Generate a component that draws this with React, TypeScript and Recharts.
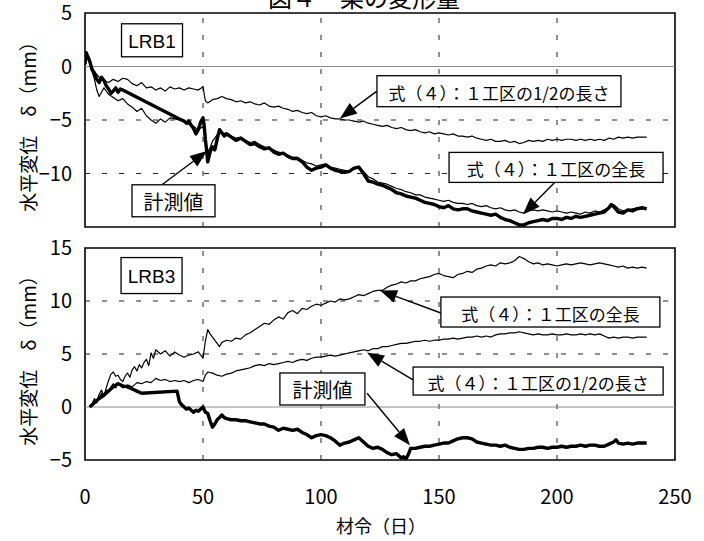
import React from 'react';
import { LineChart, Line, XAxis, YAxis, ReferenceLine, ReferenceArea, ReferenceDot } from 'recharts';

const FONT = '"Noto Sans CJK JP", "Noto Sans", sans-serif';

const xTicks = [0, 50, 100, 150, 200, 250];
const xGridValues = [50, 100, 150, 200];
const lrb1YTicks = [-15, -10, -5, 0, 5];
const lrb1Dashed = [-5, -10];
const lrb3YTicks = [-5, 0, 5, 10, 15];
const lrb3Dashed = [5, 10];

const titleText = '図４　梁の変形量';
const yLabelText = '水平変位　δ（mm）';
const xLabelText = '材令（日）';
const labelHalf = '式（４）：１工区の1/2の長さ';
const labelFull = '式（４）：１工区の全長';
const labelMeas = '計測値';

// ---- LRB1 ----
const lrb1HalfDays = [0, 0.5, 2, 4, 6, 8, 10, 12, 14, 16, 18, 20, 22, 24, 26, 28, 30, 32, 34, 36, 38, 40, 42, 44, 46, 48, 50, 51, 52, 54, 56, 58, 60, 62, 64, 66, 68, 70, 72, 74, 76, 78, 80, 82, 84, 86, 88, 90, 92, 94, 96, 98, 100, 102, 104, 106, 108, 110, 112, 114, 116, 118, 120, 122, 124, 126, 128, 130, 132, 134, 136, 138, 140, 142, 144, 146, 148, 150, 152, 154, 156, 158, 160, 162, 164, 166, 168, 170, 172, 174, 176, 178, 180, 182, 184, 186, 188, 190, 192, 194, 196, 198, 200, 202, 204, 206, 208, 210, 212, 214, 216, 218, 220, 222, 224, 226, 228, 230, 232, 234, 236, 238];
const lrb1HalfVals = [0.2, 1.3, 0.4, -0.5, -1.0, -1.3, -1.5, -1.2, -1.4, -1.1, -1.2, -1.6, -1.8, -1.5, -2.0, -1.9, -2.2, -2.0, -2.3, -1.9, -2.1, -2.0, -2.2, -2.0, -2.1, -2.2, -1.9, -3.2, -3.4, -3.1, -3.0, -2.8, -3.0, -3.1, -3.3, -3.2, -3.4, -3.3, -3.5, -3.6, -3.4, -3.7, -3.8, -3.7, -3.9, -4.0, -4.2, -4.1, -4.3, -4.4, -4.3, -4.6, -4.7, -4.6, -4.8, -4.9, -4.9, -5.0, -5.0, -5.1, -5.2, -5.1, -5.3, -5.4, -5.5, -5.6, -5.5, -5.7, -5.8, -5.7, -5.9, -6.0, -5.9, -6.1, -6.2, -6.1, -6.3, -6.2, -6.3, -6.4, -6.3, -6.5, -6.5, -6.6, -6.5, -6.7, -6.8, -6.9, -6.8, -7.0, -7.0, -6.9, -7.1, -7.0, -7.2, -7.1, -6.9, -7.0, -6.9, -7.0, -6.8, -6.9, -6.8, -6.9, -6.8, -6.8, -6.9, -6.8, -6.9, -6.8, -6.9, -6.8, -6.9, -6.7, -6.8, -6.6, -6.7, -6.6, -6.7, -6.6, -6.6, -6.6];

const lrb1FullDays = [0, 0.5, 2, 4, 5, 6, 7, 8, 10, 12, 14, 16, 18, 20, 22, 24, 26, 28, 30, 32, 34, 36, 38, 40, 42, 44, 46, 48, 50, 51, 52, 53, 54, 56, 57, 58, 60, 62, 64, 66, 68, 70, 72, 74, 76, 78, 80, 82, 84, 86, 88, 90, 92, 94, 96, 98, 100, 102, 104, 106, 108, 110, 112, 114, 116, 118, 120, 122, 124, 126, 128, 130, 132, 134, 136, 138, 140, 142, 144, 146, 148, 150, 152, 154, 156, 158, 160, 162, 164, 166, 168, 170, 172, 174, 176, 178, 180, 182, 184, 186, 188, 190, 192, 194, 196, 198, 200, 202, 204, 206, 208, 210, 212, 214, 216, 218, 220, 222, 224, 226, 228, 230, 232, 234, 236, 238];
const lrb1FullVals = [0.2, 1.3, 0.3, -1.2, -2.2, -2.8, -2.4, -2.0, -2.6, -2.9, -3.2, -3.0, -3.5, -3.8, -4.2, -3.9, -4.6, -5.0, -5.3, -4.9, -5.2, -4.8, -4.9, -5.0, -5.2, -5.4, -5.6, -5.9, -5.6, -6.8, -8.0, -7.6, -7.0, -6.4, -6.0, -6.3, -6.2, -6.5, -6.7, -6.6, -6.9, -7.1, -7.0, -7.3, -7.5, -7.6, -7.8, -8.0, -8.1, -8.3, -8.5, -8.5, -8.8, -9.0, -9.1, -9.3, -9.2, -9.1, -9.4, -9.5, -9.6, -9.7, -9.8, -9.6, -9.4, -9.8, -10.3, -10.5, -10.8, -10.9, -11.0, -11.2, -11.4, -11.5, -11.7, -11.8, -12.0, -12.0, -12.2, -12.3, -12.4, -12.5, -12.6, -12.5, -12.7, -12.8, -12.8, -12.9, -12.8, -13.0, -13.1, -13.0, -13.2, -13.3, -13.2, -13.4, -13.5, -13.4, -13.6, -13.7, -13.5, -13.4, -13.5, -13.4, -13.5, -13.6, -13.5, -13.6, -13.7, -13.6, -13.7, -13.8, -13.6, -13.7, -13.5, -13.6, -13.4, -13.2, -12.9, -13.3, -13.5, -13.4, -13.3, -13.2, -13.3, -13.2];

const lrb1MeasDays = [0, 0.5, 2, 3, 4, 5, 6, 7, 8, 9, 10, 11, 12, 13, 14, 15, 16, 39, 40, 41, 42, 43, 44, 45, 46, 47, 48, 49, 50, 50.5, 51, 51.5, 52, 53, 54, 55, 56, 57, 58, 59, 60, 62, 64, 66, 68, 70, 72, 74, 76, 78, 80, 82, 84, 86, 88, 90, 92, 94, 96, 98, 100, 102, 104, 106, 108, 110, 112, 114, 116, 118, 120, 122, 124, 126, 128, 130, 132, 134, 136, 138, 140, 142, 144, 146, 148, 150, 152, 154, 156, 158, 160, 162, 164, 166, 168, 170, 172, 174, 176, 178, 180, 182, 184, 186, 188, 190, 192, 194, 196, 198, 200, 202, 204, 206, 208, 210, 212, 214, 216, 218, 220, 222, 223, 224, 226, 228, 230, 232, 234, 236, 238];
const lrb1MeasVals = [0.2, 1.3, 0.5, -0.3, -0.6, -1.2, -1.5, -1.0, -1.3, -1.8, -2.1, -2.5, -2.3, -2.0, -2.4, -2.1, -2.2, -4.8, -4.9, -5.0, -5.1, -5.3, -5.1, -5.5, -5.8, -6.3, -5.9, -5.2, -4.8, -5.5, -6.8, -7.8, -8.9, -8.0, -7.5, -7.8, -6.8, -5.9, -6.2, -6.5, -6.3, -6.6, -6.9, -6.7, -7.0, -7.3, -7.2, -7.5, -7.7, -7.6, -8.0, -8.2, -8.1, -8.4, -8.6, -8.6, -8.9, -9.4, -9.7, -9.5, -9.4, -9.2, -9.5, -9.7, -9.8, -9.9, -9.8, -9.5, -9.4, -10.0, -10.7, -10.8, -11.0, -11.1, -11.3, -11.5, -11.8, -11.9, -12.1, -12.2, -12.3, -12.5, -12.7, -12.8, -12.9, -13.1, -13.2, -13.0, -13.3, -13.4, -13.3, -13.3, -13.5, -13.6, -13.7, -13.8, -13.9, -13.8, -14.1, -14.3, -14.4, -14.6, -14.8, -14.8, -14.6, -14.5, -14.4, -14.3, -14.4, -14.2, -14.2, -14.3, -14.1, -14.2, -14.0, -14.1, -14.0, -13.9, -13.8, -13.7, -13.6, -13.2, -12.9, -13.1, -13.6, -13.7, -13.4, -13.5, -13.3, -13.2, -13.3];

// ---- LRB3 ----
const lrb3FullDays = [2, 3, 4, 5, 6, 7, 8, 9, 10, 11, 12, 13, 14, 15, 16, 17, 18, 19, 20, 21, 22, 23, 24, 25, 26, 27, 28, 29, 30, 32, 34, 36, 38, 40, 42, 44, 46, 48, 50, 51, 52, 53, 54, 56, 57, 58, 60, 62, 64, 66, 68, 70, 72, 74, 76, 78, 80, 82, 84, 86, 88, 90, 92, 94, 96, 98, 100, 102, 104, 106, 108, 110, 112, 114, 116, 118, 120, 122, 124, 126, 128, 130, 132, 134, 136, 138, 140, 142, 144, 146, 148, 150, 152, 154, 156, 158, 160, 162, 164, 166, 168, 170, 172, 174, 176, 178, 180, 182, 184, 185, 186, 188, 190, 192, 194, 196, 198, 200, 202, 204, 206, 208, 210, 212, 214, 216, 218, 220, 222, 224, 226, 228, 230, 232, 234, 236, 238];
const lrb3FullVals = [0, 0.3, 0.8, 0.5, 1.2, 1.6, 1.0, 1.8, 2.5, 3.1, 3.3, 2.9, 3.0, 2.6, 2.4, 2.9, 3.2, 2.8, 3.5, 3.8, 3.4, 4.0, 3.7, 4.2, 4.5, 3.9, 5.1, 4.6, 5.4, 5.0, 5.3, 4.8, 5.2, 4.9, 4.7, 4.9, 5.0, 5.2, 4.6, 6.2, 7.3, 6.9, 6.6, 6.0, 5.7, 6.1, 6.3, 6.2, 6.5, 6.4, 6.8, 7.0, 7.3, 7.6, 7.9, 7.8, 8.2, 8.5, 8.3, 8.9, 9.1, 8.8, 9.3, 9.2, 9.5, 9.7, 9.6, 9.8, 10.0, 9.9, 10.2, 10.1, 10.2, 10.4, 10.6, 10.5, 10.7, 10.9, 11.0, 11.0, 11.3, 11.5, 11.6, 11.8, 11.7, 11.9, 11.9, 12.1, 12.2, 12.3, 12.5, 12.6, 12.4, 12.3, 12.2, 12.5, 12.6, 12.8, 12.7, 13.0, 13.1, 13.3, 13.4, 13.3, 13.6, 13.5, 13.6, 13.8, 14.2, 14.1, 14.0, 13.7, 13.5, 13.6, 13.4, 13.5, 13.4, 13.3, 13.4, 13.5, 13.4, 13.5, 13.6, 13.5, 13.4, 13.5, 13.6, 13.5, 13.4, 13.3, 13.2, 13.3, 13.1, 13.2, 13.1, 13.2, 13.1];

const lrb3HalfDays = [2, 3, 4, 5, 6, 7, 8, 9, 10, 11, 12, 13, 14, 15, 16, 18, 20, 22, 24, 26, 28, 30, 32, 34, 36, 38, 40, 42, 44, 46, 48, 50, 51, 52, 54, 56, 58, 60, 62, 64, 66, 68, 70, 72, 74, 76, 78, 80, 82, 84, 86, 88, 90, 92, 94, 96, 98, 100, 102, 104, 106, 108, 110, 112, 114, 116, 118, 120, 122, 124, 126, 128, 130, 132, 134, 136, 138, 140, 142, 144, 146, 148, 150, 152, 154, 156, 158, 160, 162, 164, 166, 168, 170, 172, 174, 176, 178, 180, 182, 184, 186, 188, 190, 192, 194, 196, 198, 200, 202, 204, 206, 208, 210, 212, 214, 216, 218, 220, 222, 224, 226, 228, 230, 232, 234, 236, 238];
const lrb3HalfVals = [0, 0.2, 0.6, 0.4, 0.9, 1.3, 1.0, 1.6, 1.4, 1.9, 2.2, 1.8, 2.3, 2.0, 1.8, 2.1, 1.9, 2.3, 2.2, 2.4, 2.3, 2.7, 2.5, 2.6, 2.4, 2.5, 2.4, 2.5, 2.3, 2.5, 2.6, 2.4, 3.0, 3.3, 3.2, 3.0, 2.9, 3.1, 3.2, 3.4, 3.5, 3.6, 3.7, 3.9, 4.0, 3.9, 4.1, 4.0, 4.1, 4.2, 4.3, 4.2, 4.4, 4.5, 4.4, 4.6, 4.7, 4.7, 4.8, 4.9, 4.8, 4.9, 5.0, 5.1, 5.2, 5.3, 5.4, 5.3, 5.5, 5.5, 5.7, 5.7, 5.8, 5.9, 6.0, 6.0, 6.1, 6.2, 6.2, 6.3, 6.2, 6.3, 6.3, 6.4, 6.4, 6.5, 6.4, 6.5, 6.6, 6.6, 6.7, 6.6, 6.7, 6.6, 6.8, 6.9, 6.9, 7.0, 7.0, 7.1, 7.0, 6.9, 6.8, 6.9, 6.8, 6.8, 6.9, 6.8, 6.8, 6.9, 6.8, 6.8, 6.9, 6.8, 6.9, 6.8, 6.9, 6.7, 6.5, 6.6, 6.5, 6.6, 6.6, 6.5, 6.6, 6.6, 6.6];

const lrb3MeasDays = [2, 4, 6, 8, 10, 12, 14, 16, 18, 20, 22, 24, 39, 40, 41, 42, 43, 44, 45, 46, 47, 48, 49, 50, 51, 52, 53, 54, 55, 56, 57, 58, 59, 60, 62, 64, 66, 68, 70, 72, 74, 76, 78, 80, 82, 84, 86, 88, 90, 92, 94, 96, 98, 100, 102, 104, 106, 108, 110, 112, 114, 116, 118, 120, 122, 124, 126, 128, 130, 132, 134, 135, 136, 137, 138, 140, 142, 144, 146, 148, 150, 152, 154, 156, 158, 160, 162, 164, 166, 168, 170, 172, 174, 176, 178, 180, 182, 184, 186, 188, 190, 192, 194, 196, 198, 200, 202, 204, 206, 208, 210, 212, 214, 216, 218, 220, 222, 224, 225, 226, 228, 230, 232, 234, 236, 238];
const lrb3MeasVals = [0, 0.4, 0.8, 1.1, 1.5, 1.9, 2.2, 2.0, 1.9, 1.7, 1.5, 1.3, 1.5, 0.5, 0.2, 0.0, -0.2, -0.1, -0.3, -0.5, -0.3, -0.4, -0.2, 0.0, -0.5, -0.6, -1.3, -1.9, -1.6, -1.2, -1.0, -0.75, -1.0, -1.1, -1.2, -1.2, -1.3, -1.3, -1.4, -1.5, -1.6, -1.6, -1.8, -1.9, -2.2, -2.0, -2.1, -2.2, -2.1, -2.4, -2.6, -2.9, -2.7, -2.6, -2.7, -2.9, -3.2, -3.6, -3.4, -3.3, -3.1, -2.9, -3.3, -3.7, -3.9, -3.8, -4.0, -4.3, -4.5, -4.4, -4.8, -4.7, -4.9, -4.5, -3.9, -3.9, -3.8, -3.7, -3.7, -3.6, -3.5, -3.4, -3.4, -3.2, -3.0, -2.9, -2.9, -3.0, -3.3, -3.4, -3.5, -3.6, -3.6, -3.7, -3.6, -3.8, -3.9, -4.0, -4.0, -3.9, -3.9, -3.8, -3.8, -3.9, -3.8, -3.8, -3.7, -3.8, -3.7, -3.7, -3.6, -3.7, -3.6, -3.6, -3.7, -3.7, -3.5, -3.3, -3.1, -3.4, -3.5, -3.4, -3.5, -3.4, -3.4, -3.4];

const build = (days: number[], vals: number[]) => days.map((d, i) => ({ d, v: vals[i] }));

const minus = (v: number) => String(v).replace('-', '−');

const arrowShape = (props: any) => {
  const { x1, y1, x2, y2 } = props;
  const dx = x2 - x1;
  const dy = y2 - y1;
  const len = Math.hypot(dx, dy) || 1;
  const ux = dx / len;
  const uy = dy / len;
  const hl = 17;
  const hw = 6.5;
  const bx = x2 - ux * hl;
  const by = y2 - uy * hl;
  const px = -uy * hw;
  const py = ux * hw;
  return (
    <g>
      <line x1={x1} y1={y1} x2={bx} y2={by} stroke="#000" strokeWidth={1.4} />
      <polygon points={`${x2},${y2} ${bx + px},${by + py} ${bx - px},${by - py}`} fill="#000" />
    </g>
  );
};

const boxShape = (text: string, w: number, h: number, fs: number, ff: string = FONT) => (p: any) => (
  <g>
    <rect x={p.cx - w / 2} y={p.cy - h / 2} width={w} height={h} fill="#fff" stroke="#000" strokeWidth={1.3} />
    <text x={p.cx} y={p.cy + 1} textAnchor="middle" dominantBaseline="central" fontSize={fs} fontFamily={ff} fill="#000">
      {text}
    </text>
  </g>
);

type Ann = { text: string; cx: number; cy: number; w: number; h: number; fs: number; ff?: string; from?: [number, number]; to?: [number, number] };

const lrb1Anns: Ann[] = [
  { text: 'LRB1', cx: 28.4, cy: 2.45, w: 61, h: 33, fs: 19, ff: '"Liberation Sans", Arial, sans-serif' },
  { text: labelHalf, cx: 175.4, cy: -2.31, w: 244, h: 31, fs: 17, from: [123.7, -2.3], to: [108, -4.85] },
  { text: labelFull, cx: 199.6, cy: -9.43, w: 214, h: 30, fs: 17, from: [199, -10.85], to: [185.6, -13.8] },
  { text: labelMeas, cx: 37.5, cy: -12.55, w: 83, h: 32, fs: 20, from: [32.6, -11.05], to: [51.7, -7.9] },
];

const lrb3Anns: Ann[] = [
  { text: 'LRB3', cx: 28.2, cy: 12.4, w: 61, h: 36, fs: 19, ff: '"Liberation Sans", Arial, sans-serif' },
  { text: labelFull, cx: 197.2, cy: 8.96, w: 219, h: 30, fs: 17, from: [150.8, 8.87], to: [125, 11.0] },
  { text: labelHalf, cx: 192, cy: 2.45, w: 250, h: 28, fs: 17, from: [139, 2.55], to: [119.5, 5.15] },
  { text: labelMeas, cx: 100.6, cy: 1.7, w: 85, h: 32, fs: 20, from: [119.5, 1.3], to: [137.7, -3.6] },
];

type PanelProps = {
  yTicks: number[];
  dashed: number[];
  series: { data: { d: number; v: number }[]; width: number }[];
  anns: Ann[];
  height: number;
  margin: { top: number; right: number; bottom: number; left: number };
  showX: boolean;
};

const Panel = ({ yTicks, dashed, series, anns, height, margin, showX }: PanelProps) => {
  const yMin = yTicks[0];
  const yMax = yTicks[yTicks.length - 1];
  return (
    <LineChart width={704} height={height} margin={margin} style={{ overflow: 'visible' }}>
      <XAxis
        type="number"
        dataKey="d"
        domain={[0, 250]}
        ticks={xTicks}
        hide={!showX}
        axisLine={false}
        tickLine={false}
        tickSize={0}
        tickMargin={30}
        height={50}
        allowDataOverflow
        tick={{ fontSize: 20, fontFamily: FONT, fill: '#000' }}
      />
      <YAxis
        type="number"
        dataKey="v"
        domain={[yMin, yMax]}
        ticks={yTicks}
        width={85}
        axisLine={false}
        tickLine={false}
        tickSize={0}
        tickMargin={13}
        allowDataOverflow
        tickFormatter={minus}
        tick={{ fontSize: 20, fontFamily: FONT, fill: '#000' }}
      />
      {dashed.map((y) => (
        <ReferenceLine key={'h' + y} y={y} stroke="#222" strokeWidth={1} strokeDasharray="5 12" />
      ))}
      {xGridValues.map((x) => (
        <ReferenceLine key={'v' + x} x={x} stroke="#222" strokeWidth={1} strokeDasharray="5 12" />
      ))}
      <ReferenceLine y={0} stroke="#8a8a8a" strokeWidth={1.2} />
      {series.map((s, i) => (
        <Line
          key={i}
          data={s.data}
          dataKey="v"
          type="linear"
          stroke="#000"
          strokeWidth={s.width}
          strokeLinejoin="round"
          dot={false}
          activeDot={false}
          isAnimationActive={false}
        />
      ))}
      <ReferenceArea x1={0} x2={250} y1={yMin} y2={yMax} fill="none" stroke="#000" strokeWidth={1.6} ifOverflow="visible" />
      {anns
        .filter((a) => a.from && a.to)
        .map((a, i) => (
          <ReferenceLine
            key={'a' + i}
            segment={[
              { x: a.from![0], y: a.from![1] },
              { x: a.to![0], y: a.to![1] },
            ]}
            ifOverflow="visible"
            shape={arrowShape}
          />
        ))}
      {anns.map((a, i) => (
        <ReferenceDot key={'b' + i} x={a.cx} y={a.cy} r={1} ifOverflow="visible" shape={boxShape(a.text, a.w, a.h, a.fs, a.ff)} />
      ))}
    </LineChart>
  );
};

const rotatedLabel = (cy: number) => (
  <div
    style={{
      position: 'absolute',
      left: 28,
      top: cy,
      transform: 'translate(-50%, -50%) rotate(-90deg)',
      whiteSpace: 'nowrap',
      fontSize: 19,
      fontFamily: FONT,
      color: '#000',
      lineHeight: '20px',
    }}
  >
    {yLabelText}
  </div>
);

export default function App() {
  const lrb1Series = [
    { data: build(lrb1HalfDays, lrb1HalfVals), width: 1.2 },
    { data: build(lrb1FullDays, lrb1FullVals), width: 1.2 },
    { data: build(lrb1MeasDays, lrb1MeasVals), width: 3.4 },
  ];
  const lrb3Series = [
    { data: build(lrb3HalfDays, lrb3HalfVals), width: 1.2 },
    { data: build(lrb3FullDays, lrb3FullVals), width: 1.2 },
    { data: build(lrb3MeasDays, lrb3MeasVals), width: 3.4 },
  ];
  return (
    <div style={{ position: 'absolute', left: 0, top: 0, width: 704, height: 541, background: '#fff', overflow: 'hidden' }}>
      <div
        style={{
          position: 'absolute',
          left: 364,
          top: -15,
          transform: 'translateX(-50%)',
          whiteSpace: 'nowrap',
          fontSize: 24,
          lineHeight: '24px',
          fontFamily: FONT,
          color: '#000',
        }}
      >
        {titleText}
      </div>
      <div style={{ position: 'absolute', left: 0, top: 0 }}>
        <Panel
          yTicks={lrb1YTicks}
          dashed={lrb1Dashed}
          series={lrb1Series}
          anns={lrb1Anns}
          height={230}
          margin={{ top: 13, right: 29, bottom: 3, left: 0 }}
          showX={false}
        />
      </div>
      <div style={{ position: 'absolute', left: 0, top: 230 }}>
        <Panel
          yTicks={lrb3YTicks}
          dashed={lrb3Dashed}
          series={lrb3Series}
          anns={lrb3Anns}
          height={311}
          margin={{ top: 18, right: 29, bottom: 31, left: 0 }}
          showX={true}
        />
      </div>
      {rotatedLabel(122)}
      {rotatedLabel(356)}
      <div
        style={{
          position: 'absolute',
          left: 381,
          top: 525,
          transform: 'translate(-50%, -50%)',
          whiteSpace: 'nowrap',
          fontSize: 18,
          fontFamily: FONT,
          color: '#000',
        }}
      >
        {xLabelText}
      </div>
    </div>
  );
}
